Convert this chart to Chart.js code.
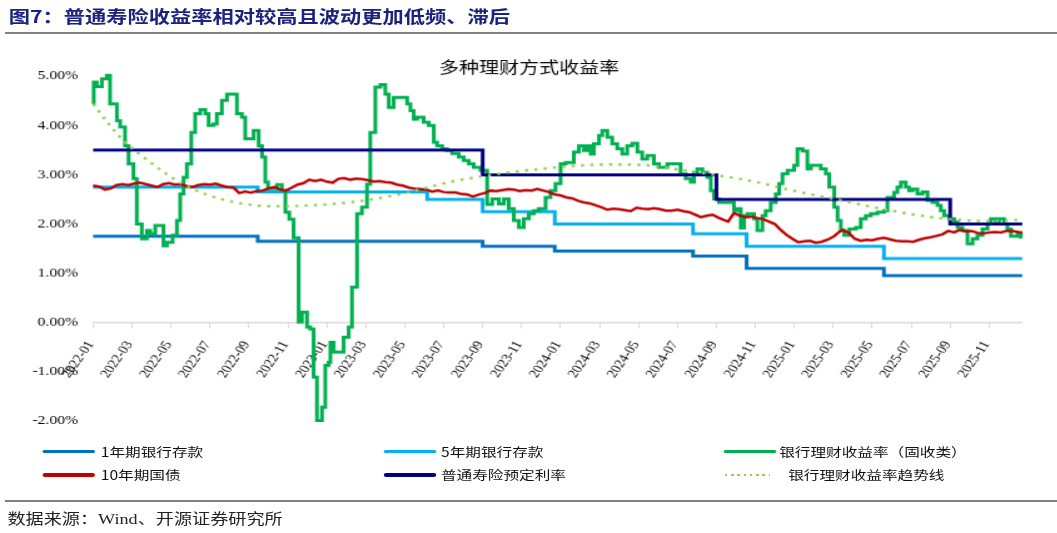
<!DOCTYPE html>
<html lang="zh-CN">
<head>
<meta charset="utf-8">
<title>多种理财方式收益率</title>
<script src="https://cdn.jsdelivr.net/npm/chart.js@4.4.1/dist/chart.umd.min.js"></script>
<style>
  html, body { margin: 0; padding: 0; background: #fff; }
  body { width: 1057px; height: 533px; overflow: hidden; position: relative; }
  /* the source picture is stretched about 1.25x sideways, so lay out narrow and stretch */
  #page {
    position: absolute; left: 0; top: 0; width: 845.6px; height: 533px;
    transform: scaleX(1.25); transform-origin: 0 0;
    font-family: "Noto Sans CJK SC", sans-serif;
  }
  .fig-title {
    position: absolute; left: 7px; top: 5px; line-height: 22px;
    font-size: 17px; font-weight: bold; color: #1a237e; white-space: nowrap;
  }
  .rule { position: absolute; left: 4px; width: 841.6px; height: 2px; background: #808080; }
  #chart-box { position: absolute; left: 0; top: 40px; width: 845.6px; height: 399.5px; }
  .lg-item { position: absolute; height: 18px; line-height: 18px; font-size: 12.5px; color: #111; white-space: nowrap; }
  .lg-line { position: absolute; left: 0; top: 7.25px; height: 3.5px; border-radius: 2px; }
  .lg-text { position: absolute; top: 0; }
  .source {
    position: absolute; left: 6px; top: 509px; line-height: 20px;
    font-family: "Liberation Serif", "Noto Sans CJK SC", serif;
    font-size: 14.5px; color: #222; white-space: nowrap;
  }
</style>
</head>
<body>
<div id="page">
  <div class="fig-title">图7：普通寿险收益率相对较高且波动更加低频、滞后</div>
  <div class="rule" style="top: 32px;"></div>
  <div id="chart-box"><canvas id="yield-chart"></canvas></div>
  <div id="legend"></div>
  <div class="rule" style="top: 500px;"></div>
  <div class="source">数据来源：Wind、开源证券研究所</div>
</div>
<script>
// x values are months since 2022-01-01
const xTickLabels = [
  "2022-01", "2022-03", "2022-05", "2022-07", "2022-09", "2022-11",
  "2023-01", "2023-03", "2023-05", "2023-07", "2023-09", "2023-11",
  "2024-01", "2024-03", "2024-05", "2024-07", "2024-09", "2024-11",
  "2025-01", "2025-03", "2025-05", "2025-07", "2025-09", "2025-11",
];

// 1年期银行存款
const dep1Months = [0, 8.45, 20.0, 23.7, 30.8, 33.55, 40.6, 47.7];
const dep1Rates = [1.75, 1.65, 1.55, 1.45, 1.35, 1.10, 0.95, 0.95];

// 5年期银行存款
const dep5Months = [0, 8.45, 17.15, 20.0, 23.7, 30.8, 33.55, 40.6, 47.7];
const dep5Rates = [2.75, 2.65, 2.50, 2.25, 2.00, 1.80, 1.55, 1.30, 1.30];

// 普通寿险预定利率
const lifeMonths = [0, 20.0, 32.0, 44.0, 47.7];
const lifeRates = [3.5, 3.0, 2.5, 2.0, 2.0];

// 银行理财收益率（固收类）, each value holds until the next month mark
const wmpMonths = [
  0, 0.03, 0.19, 0.45, 0.70, 0.87, 1.22, 1.39, 1.64, 1.82, 2.07, 2.24, 2.50, 2.76, 2.93, 3.19,
  3.61, 3.79, 4.08, 4.30, 4.47, 4.64, 4.81, 5.04, 5.24, 5.50, 5.76, 5.93, 6.18, 6.35, 6.61, 6.87,
  7.38, 7.64, 7.81, 8.24, 8.50, 8.67, 8.84, 8.98, 9.44, 9.69, 9.87, 10.07, 10.29, 10.55, 10.72, 10.98,
  11.15, 11.32, 11.49, 11.75, 11.92, 12.09, 12.18, 12.35, 12.86, 13.12, 13.29, 13.55, 13.80, 14.06, 14.23, 14.49,
  14.75, 15.00, 15.18, 15.43, 16.12, 16.29, 16.46, 16.63, 16.97, 17.23, 17.49, 17.66, 17.92, 18.17, 18.43, 18.77,
  19.03, 19.29, 19.54, 19.89, 20.23, 20.49, 20.83, 21.09, 21.34, 21.60, 21.86, 22.11, 22.37, 22.63, 22.88, 23.23,
  23.48, 23.74, 24.00, 24.26, 24.68, 24.94, 25.20, 25.37, 25.54, 25.71, 25.97, 26.14, 26.40, 26.65, 26.91, 27.17,
  27.42, 27.68, 27.94, 28.19, 28.45, 28.79, 29.05, 29.48, 30.16, 30.42, 30.68, 30.85, 31.02, 31.28, 31.53, 31.71,
  31.88, 32.13, 32.90, 33.07, 33.25, 33.42, 33.59, 33.93, 34.10, 34.36, 34.53, 34.79, 35.05, 35.22, 35.39, 35.65,
  35.99, 36.16, 36.42, 36.67, 36.85, 37.36, 37.62, 37.79, 38.05, 38.22, 38.39, 38.56, 38.82, 39.16, 39.41, 39.67,
  39.93, 40.27, 40.61, 40.78, 41.12, 41.29, 41.47, 41.72, 41.89, 42.07, 42.32, 42.58, 42.84, 43.09, 43.35, 43.52,
  43.69, 43.95, 44.21, 44.38, 44.63, 44.89, 45.15, 45.40, 45.66, 45.92, 46.09, 46.34, 46.51, 46.77, 46.94, 47.12,
  47.46, 47.63, 47.70,
];
const wmpYields = [
  4.44, 4.88, 4.79, 4.95, 5.02, 4.44, 4.10, 3.97, 3.59, 3.22, 2.92, 2.00, 1.70, 1.87, 1.80, 1.97,
  1.56, 1.63, 1.77, 2.07, 2.61, 2.95, 3.22, 3.86, 4.24, 4.32, 4.24, 4.00, 4.03, 4.24, 4.51, 4.64,
  4.24, 4.17, 3.73, 3.90, 3.59, 3.36, 2.85, 2.72, 2.80, 2.68, 2.24, 2.10, 1.72, 0.01, 0.21, -0.09,
  -0.13, -1.11, -1.99, -1.72, -0.87, -0.81, -0.40, -0.60, -0.30, -0.09, 0.72, 2.21, 2.34, 2.81, 3.86, 4.78,
  4.83, 4.64, 4.37, 4.57, 4.44, 4.30, 4.13, 4.17, 4.07, 4.00, 3.66, 3.59, 3.53, 3.49, 3.43, 3.36,
  3.29, 3.22, 3.15, 3.09, 2.40, 2.51, 2.41, 2.51, 2.31, 2.07, 1.93, 2.11, 2.21, 2.27, 2.31, 2.54,
  2.68, 2.82, 3.22, 3.25, 3.46, 3.59, 3.49, 3.59, 3.42, 3.63, 3.80, 3.90, 3.76, 3.63, 3.53, 3.42,
  3.59, 3.64, 3.46, 3.32, 3.39, 3.22, 3.15, 3.22, 3.02, 2.92, 2.85, 3.05, 3.12, 3.05, 2.95, 2.68,
  2.51, 2.44, 2.27, 2.31, 1.92, 2.17, 2.21, 2.11, 1.87, 2.17, 2.27, 2.44, 2.61, 2.82, 3.02, 3.09,
  3.19, 3.53, 3.48, 3.12, 3.19, 3.12, 3.02, 2.75, 2.34, 2.07, 1.87, 1.77, 1.90, 1.93, 2.11, 2.17,
  2.21, 2.24, 2.27, 2.54, 2.64, 2.75, 2.85, 2.75, 2.68, 2.71, 2.61, 2.65, 2.48, 2.44, 2.38, 2.27,
  2.17, 2.11, 2.04, 1.93, 1.87, 1.60, 1.70, 1.77, 1.90, 2.00, 2.11, 2.00, 2.11, 2.00, 1.90, 1.75,
  1.80, 1.73, 1.73,
];

// 10年期国债
const bondMonths = [
  0, 0.3, 0.6, 0.9, 1.2, 1.5, 1.8, 2.1, 2.4, 2.7, 3.0, 3.3, 3.6, 3.9, 4.2, 4.5, 4.8, 5.1, 5.4, 5.7,
  6.0, 6.3, 6.6, 6.9, 7.2, 7.5, 7.8, 8.1, 8.4, 8.7, 9.0, 9.3, 9.6, 9.9, 10.2, 10.5, 10.8, 11.1, 11.4, 11.7,
  12.0, 12.3, 12.6, 12.9, 13.2, 13.5, 13.8, 14.1, 14.4, 14.7, 15.0, 15.3, 15.6, 15.9, 16.2, 16.5, 16.8, 17.1, 17.4, 17.7,
  18.0, 18.3, 18.6, 18.9, 19.2, 19.5, 19.8, 20.1, 20.4, 20.7, 21.0, 21.3, 21.6, 21.9, 22.2, 22.5, 22.8, 23.1, 23.4, 23.7,
  24.0, 24.3, 24.6, 24.9, 25.2, 25.5, 25.8, 26.1, 26.4, 26.7, 27.0, 27.3, 27.6, 27.9, 28.2, 28.5, 28.8, 29.1, 29.4, 29.7,
  30.0, 30.3, 30.6, 30.9, 31.2, 31.5, 31.8, 32.1, 32.4, 32.6, 32.9, 33.2, 33.5, 33.8, 34.1, 34.4, 34.7, 35.0, 35.3, 35.6,
  35.9, 36.2, 36.5, 36.8, 37.1, 37.4, 37.7, 38.0, 38.3, 38.5, 38.8, 39.1, 39.4, 39.7, 40.0, 40.3, 40.6, 40.9, 41.2, 41.5,
  41.8, 42.1, 42.4, 42.7, 43.0, 43.3, 43.6, 43.9, 44.2, 44.5, 44.8, 45.1, 45.4, 45.7, 46.0, 46.3, 46.6, 46.9, 47.2, 47.5,
  47.7,
];
const bondYields = [
  2.78, 2.76, 2.70, 2.72, 2.79, 2.81, 2.79, 2.82, 2.84, 2.81, 2.78, 2.75, 2.81, 2.83, 2.80, 2.81, 2.77, 2.75, 2.79, 2.81,
  2.80, 2.82, 2.78, 2.75, 2.74, 2.63, 2.66, 2.64, 2.67, 2.68, 2.72, 2.75, 2.70, 2.68, 2.74, 2.80, 2.83, 2.90, 2.87, 2.90,
  2.86, 2.84, 2.92, 2.93, 2.90, 2.92, 2.91, 2.89, 2.86, 2.87, 2.85, 2.84, 2.80, 2.78, 2.74, 2.72, 2.71, 2.70, 2.66, 2.68,
  2.65, 2.64, 2.64, 2.61, 2.60, 2.56, 2.60, 2.63, 2.68, 2.67, 2.69, 2.71, 2.70, 2.67, 2.69, 2.68, 2.71, 2.68, 2.65, 2.60,
  2.58, 2.54, 2.52, 2.47, 2.44, 2.42, 2.38, 2.34, 2.29, 2.31, 2.30, 2.28, 2.26, 2.33, 2.31, 2.30, 2.32, 2.30, 2.27, 2.27,
  2.29, 2.26, 2.24, 2.19, 2.14, 2.17, 2.19, 2.13, 2.08, 2.05, 2.22, 2.17, 2.14, 2.15, 2.12, 2.10, 2.05, 2.00, 1.88, 1.78,
  1.70, 1.63, 1.65, 1.66, 1.62, 1.64, 1.68, 1.74, 1.84, 1.88, 1.82, 1.70, 1.66, 1.68, 1.67, 1.70, 1.72, 1.69, 1.66, 1.65,
  1.65, 1.64, 1.68, 1.71, 1.73, 1.76, 1.79, 1.86, 1.83, 1.88, 1.85, 1.86, 1.82, 1.81, 1.83, 1.84, 1.83, 1.86, 1.86, 1.84,
  1.83,
];

// 银行理财收益率趋势线
const trendMonths = [0, 0.87, 1.64, 2.58, 3.5, 4.55, 5.75, 7.3, 9.2, 11.2, 13.2, 15.8, 18.3, 20.8, 22.5, 25.0, 26.7, 28.5, 30.2, 31.9, 34.1, 35.8, 38.4, 41.0, 43.5, 46.1, 47.7];
const trendYields = [4.44, 4.00, 3.66, 3.36, 3.09, 2.82, 2.61, 2.44, 2.36, 2.38, 2.44, 2.61, 2.85, 3.02, 3.10, 3.19, 3.21, 3.19, 3.10, 3.00, 2.85, 2.69, 2.48, 2.27, 2.12, 2.06, 2.09];

function toPoints(xs, ys) {
  return xs.map((x, i) => ({ x: x, y: ys[i] }));
}

const datasets = [
  { label: "1年期银行存款", data: toPoints(dep1Months, dep1Rates), borderColor: "#0070C0", borderWidth: 3, stepped: "before", order: 6 },
  { label: "5年期银行存款", data: toPoints(dep5Months, dep5Rates), borderColor: "#00B0F0", borderWidth: 3, stepped: "before", order: 5 },
  { label: "银行理财收益率（固收类）", data: toPoints(wmpMonths, wmpYields), borderColor: "#00B050", borderWidth: 3, stepped: "before", order: 4 },
  { label: "10年期国债", data: toPoints(bondMonths, bondYields), borderColor: "#C00000", borderWidth: 2.5, order: 3 },
  { label: "普通寿险预定利率", data: toPoints(lifeMonths, lifeRates), borderColor: "#000080", borderWidth: 3, stepped: "before", order: 2 },
  { label: "银行理财收益率趋势线", data: toPoints(trendMonths, trendYields), borderColor: "#92D050", borderWidth: 2.5, borderDash: [2.5, 5], cubicInterpolationMode: "monotone", order: 1 },
];
datasets.forEach((d) => {
  d.pointRadius = 0;
  d.fill = false;
  d.clip = 6;
  d.backgroundColor = d.borderColor;
});

const config = {
  type: "line",
  data: { datasets: datasets },
  options: {
    maintainAspectRatio: false,
    responsive: true,
    animation: false,
    events: [],
    layout: { padding: { left: 0, right: 0, top: 0, bottom: 0 } },
    plugins: {
      legend: { display: false },
      tooltip: { enabled: false },
      title: {
        display: true,
        text: "多种理财方式收益率",
        color: "#000",
        font: { family: "Noto Sans CJK SC", size: 16, weight: "normal" },
        padding: { top: 17, bottom: 0 },
      },
    },
    scales: {
      x: {
        type: "linear",
        position: { y: 0 },
        min: 0,
        max: 47.7,
        grid: { display: true, drawOnChartArea: false, drawTicks: true, tickLength: 5, color: "#d9d9d9" },
        border: { display: true, color: "#d9d9d9", width: 1.5 },
        ticks: {
          stepSize: 2,
          autoSkip: false,
          includeBounds: false,
          minRotation: 60,
          maxRotation: 60,
          padding: 11,
          labelOffset: -2,
          color: "#000",
          font: { family: "Liberation Serif", size: 12 },
          callback: (v) => xTickLabels[v / 2] ?? "",
        },
      },
      y: {
        min: -2,
        max: 5,
        grid: { display: false, drawTicks: false, tickLength: 0 },
        border: { display: false },
        afterFit: (scale) => { scale.width = 74.4; },
        ticks: {
          stepSize: 1,
          padding: 12,
          color: "#000",
          font: { family: "Liberation Serif", size: 12.5 },
          callback: (v) => v.toFixed(2) + "%",
        },
      },
      // empty strip on the right so the plot ends where the original does
      // while the title stays centred on the whole canvas
      yRight: {
        position: "right",
        grid: { display: false, drawTicks: false },
        border: { display: false },
        ticks: { display: false },
        afterFit: (scale) => { scale.width = 28.8; },
      },
    },
  },
};

new Chart(document.getElementById("yield-chart"), config);

// legend in three columns, two rows, same order as the datasets
const legendSlots = [
  { left: 34.2, top: 442.7, text: 46.4 },
  { left: 307, top: 442.7, text: 45.8 },
  { left: 578.7, top: 442.7, text: 44.7 },
  { left: 34.2, top: 466, text: 46.4 },
  { left: 307, top: 466, text: 45.8 },
  { left: 580, top: 466, text: 50.6 },
];
const legendBox = document.getElementById("legend");
datasets.forEach((d, i) => {
  const slot = legendSlots[i];
  const item = document.createElement("div");
  item.className = "lg-item";
  item.style.left = slot.left + "px";
  item.style.top = slot.top + "px";
  const line = document.createElement("div");
  line.className = "lg-line";
  if (d.borderDash) {
    line.style.width = "36px";
    line.style.height = "2.5px";
    line.style.top = "7.75px";
    line.style.borderRadius = "0";
    line.style.background = "repeating-linear-gradient(to right, " + d.borderColor + " 0 2px, transparent 2px 5px)";
  } else {
    line.style.width = "42px";
    line.style.background = d.borderColor;
  }
  const text = document.createElement("span");
  text.className = "lg-text";
  text.style.left = slot.text + "px";
  text.textContent = d.label;
  item.appendChild(line);
  item.appendChild(text);
  legendBox.appendChild(item);
});
</script>
</body>
</html>
